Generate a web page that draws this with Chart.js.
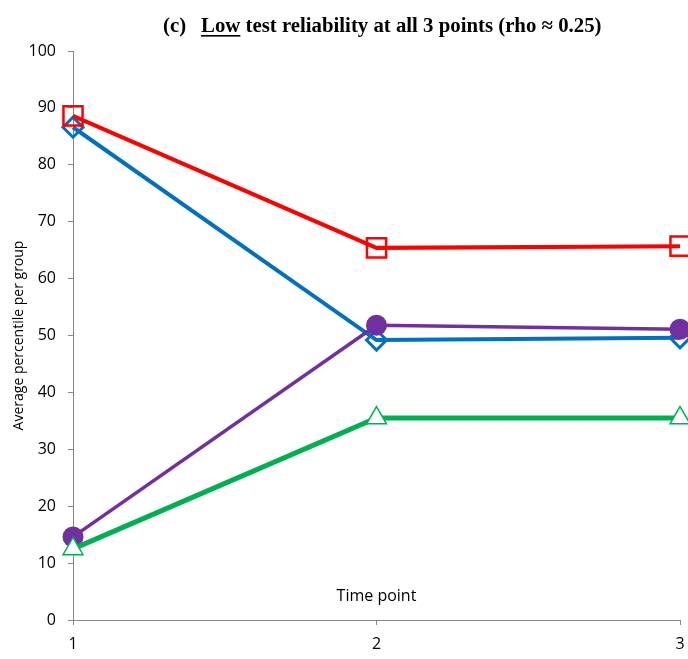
<!DOCTYPE html>
<html>
<head>
<meta charset="utf-8">
<script src="https://cdn.jsdelivr.net/npm/chart.js@4/dist/chart.umd.min.js"></script>
<style>
  html, body { margin: 0; padding: 0; background: #fff; }
  #wrap { width: 688px; height: 659px; position: relative; }
</style>
</head>
<body>
<div id="wrap"><canvas id="chart"></canvas></div>
<script>
const timePoints = [1, 2, 3];
const yTicks = [0, 10, 20, 30, 40, 50, 60, 70, 80, 90, 100];
const redSquares = [88.6, 65.4, 65.7];
const blueDiamonds = [86.6, 49.2, 49.6];
const purpleCircles = [14.6, 51.8, 51.1];
const greenTriangles = [12.5, 35.5, 35.5];

const toPoints = (vals) => vals.map((v, i) => ({ x: timePoints[i], y: v }));
const sans = "'Open Sans', 'Noto Sans', sans-serif";

// title with the underlined "Low", the y title and the x title inside the plot
const textPlugin = {
  id: "texts",
  afterDraw(chart) {
    const ctx = chart.ctx;
    const area = chart.chartArea;
    ctx.save();
    ctx.fillStyle = "#000";
    ctx.textBaseline = "alphabetic";
    ctx.font = "bold 20.8px 'Liberation Serif', 'Times New Roman', serif";
    let x = 163;
    const y = 32;
    ctx.fillText("(c)", x, y);
    x += ctx.measureText("(c)").width + 15;
    ctx.fillText("Low", x, y);
    const lw = ctx.measureText("Low").width;
    ctx.fillRect(x, y + 3, lw, 1.6);
    x += lw;
    ctx.fillText(" test reliability at all 3 points (rho \u2248 0.25)", x, y);

    ctx.font = "16px " + sans;
    ctx.textAlign = "center";
    ctx.textBaseline = "middle";
    ctx.fillText("Time point", (area.left + area.right) / 2, 596);

    ctx.font = "14px " + sans;
    ctx.translate(19, (area.top + area.bottom) / 2);
    ctx.rotate(-Math.PI / 2);
    ctx.fillText("Average percentile per group", 0, 0);
    ctx.restore();
  }
};

new Chart(document.getElementById("chart"), {
  type: "line",
  data: {
    datasets: [
      {
        label: "Blue",
        data: toPoints(blueDiamonds),
        borderColor: "#0070C0",
        borderWidth: 4,
        pointStyle: "rectRot",
        pointRadius: 10,
        pointBorderWidth: 3,
        pointBorderColor: "#0070C0",
        pointBackgroundColor: "rgba(0,0,0,0)",
        order: 4
      },
      {
        label: "Red",
        data: toPoints(redSquares),
        borderColor: "#FF0000",
        borderWidth: 4,
        pointStyle: "rect",
        pointRadius: 13.5,
        pointBorderWidth: 2.5,
        pointBorderColor: "#FF0000",
        pointBackgroundColor: "rgba(0,0,0,0)",
        order: 3
      },
      {
        label: "Purple",
        data: toPoints(purpleCircles),
        borderColor: "#7030A0",
        borderWidth: 3.5,
        pointStyle: "circle",
        pointRadius: 10.5,
        pointBorderWidth: 0,
        pointBackgroundColor: "#7030A0",
        order: 2
      },
      {
        label: "Green",
        data: toPoints(greenTriangles),
        borderColor: "#00B050",
        borderWidth: 5,
        pointStyle: "triangle",
        pointRadius: 11.5,
        pointBorderWidth: 1.5,
        pointBorderColor: "#00B050",
        pointBackgroundColor: "#ffffff",
        order: 1
      }
    ]
  },
  options: {
    responsive: true,
    maintainAspectRatio: false,
    animation: false,
    clip: false,
    layout: { autoPadding: false, padding: { top: 51, right: 8, left: 0, bottom: 0 } },
    plugins: {
      legend: { display: false },
      tooltip: { enabled: false },
      title: { display: false }
    },
    scales: {
      x: {
        type: "linear",
        min: 1,
        max: 3,
        afterFit: (s) => { s.height = 39; s.paddingLeft = 0; s.paddingRight = 0; },
        afterBuildTicks: (s) => { s.ticks = timePoints.map((v) => ({ value: v })); },
        border: { color: "#868686", width: 1 },
        grid: { drawOnChartArea: false, tickLength: 5, color: "#868686" },
        ticks: {
          padding: 10,
          color: "#000",
          font: { family: sans, size: 16 }
        }
      },
      y: {
        min: 0,
        max: 100,
        afterFit: (s) => { s.width = 73; s.paddingTop = 0; s.paddingBottom = 0; },
        afterBuildTicks: (s) => { s.ticks = yTicks.map((v) => ({ value: v })); },
        border: { color: "#868686", width: 1 },
        grid: { drawOnChartArea: false, tickLength: 5, color: "#868686" },
        ticks: {
          padding: 12,
          color: "#000",
          font: { family: sans, size: 16 }
        }
      }
    }
  },
  plugins: [textPlugin]
});
</script>
</body>
</html>
